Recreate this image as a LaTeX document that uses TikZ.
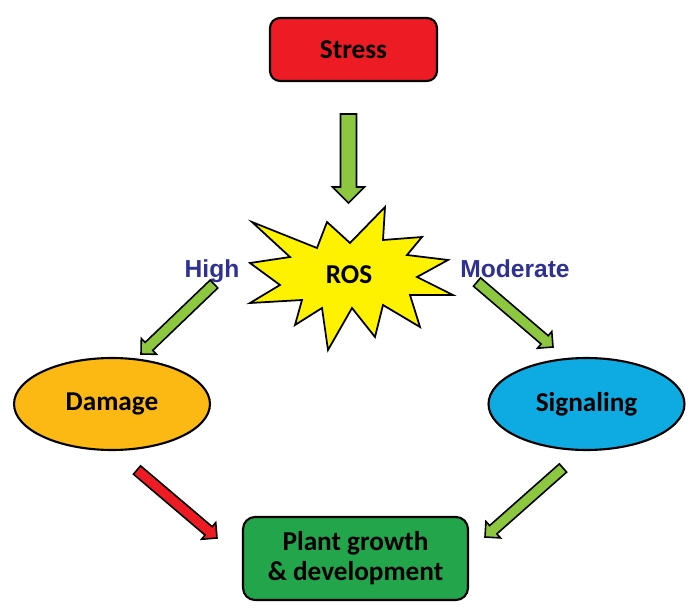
\documentclass[tikz,border=0pt]{standalone}
\usepackage{fontspec}
\setmainfont{Carlito}
\newfontfamily\labelfont{Liberation Sans}
\usepackage{tikz}
\usetikzlibrary{calc, shapes.geometric}

\definecolor{stressred}{RGB}{237,28,36}
\definecolor{arrowgreen}{RGB}{141,198,63}
\definecolor{rosyellow}{RGB}{255,242,0}
\definecolor{damageorange}{RGB}{253,185,19}
\definecolor{signalblue}{RGB}{13,171,225}
\definecolor{plantgreen}{RGB}{35,166,75}
\definecolor{labelblue}{RGB}{46,49,146}

\tikzset{
  boxtext/.style={font=\bfseries\fontsize{15.5}{17}\selectfont, align=center},
  box/.style={boxtext, draw=black, line width=1.2pt, rounded corners=0.2cm},
  blob/.style={boxtext, ellipse, draw=black, line width=1.2pt, minimum width=3.92cm, minimum height=1.84cm},
  level/.style={font=\labelfont\bfseries\fontsize{14}{16}\selectfont, text=labelblue, anchor=base},
  arrowline/.style={draw=black, line width=0.9pt, line join=miter},
}

% fat arrow: from, to, fill, shaft half width, head half width
\newcommand{\fatarrow}[5]{%
  \coordinate (fa) at ($(#2)!#5!(#1)$);
  \draw[arrowline, fill=#3] ($(#1)!#4!90:(#2)$) -- ($(fa)!#4!90:(#2)$)
    -- ($(fa)!#5!90:(#2)$) -- (#2) -- ($(fa)!#5!-90:(#2)$)
    -- ($(fa)!#4!-90:(#2)$) -- ($(#1)!#4!-90:(#2)$) -- cycle;}

\begin{document}
\begin{tikzpicture}[x=0.02cm, y=-0.02cm]
        \useasboundingbox (0,0) rectangle (700,615);

        \node (stress) [box, fill=stressred, minimum width=3.34cm, minimum height=1.26cm] at (353.5,49.5) {Stress};

        % ROS burst
        \draw[fill=rosyellow, line width=1pt, line join=miter]
          (252,222) -- (317,248) -- (327,222) -- (350,243) -- (385,207) -- (383,240)
          -- (422,237) -- (407,255) -- (448,260) -- (417,277) -- (453,295) -- (410,295)
          -- (420,327) -- (383,305) -- (375,337) -- (352,308) -- (328,350) -- (322,308)
          -- (295,325) -- (302,300) -- (250,303) -- (280,285) -- (250,263) -- (290,257) -- cycle;
        \node (ros) [boxtext, anchor=base] at (349,283) {ROS};

        \node (high) [level] at (212,277) {High};
        \node (moderate) [level] at (515,277) {Moderate};

        \node (damage) [blob, fill=damageorange] at (112,404) {Damage};
        \node (signaling) [blob, fill=signalblue] at (586.5,404) {Signaling};

        \node (plant) [box, fill=plantgreen, rounded corners=0.24cm, minimum width=4.5cm, minimum height=1.66cm] at (355.5,558.5) {Plant growth\\\& development};

        \coordinate (s1) at (348.5,114);
        \coordinate (s2) at (348.5,203);
        \coordinate (h1) at (214,284);
        \coordinate (h2) at (141,354);
        \coordinate (m1) at (477,282);
        \coordinate (m2) at (553,347);
        \coordinate (d1) at (137,470);
        \coordinate (d2) at (217,538);
        \coordinate (g1) at (563,468);
        \coordinate (g2) at (485,537);

        \fatarrow{s1}{s2}{arrowgreen}{0.16cm}{0.32cm}
        \fatarrow{h1}{h2}{arrowgreen}{0.11cm}{0.22cm}
        \fatarrow{m1}{m2}{arrowgreen}{0.11cm}{0.22cm}
        \fatarrow{d1}{d2}{stressred}{0.11cm}{0.22cm}
        \fatarrow{g1}{g2}{arrowgreen}{0.11cm}{0.22cm}
    \end{tikzpicture}
\end{document}
